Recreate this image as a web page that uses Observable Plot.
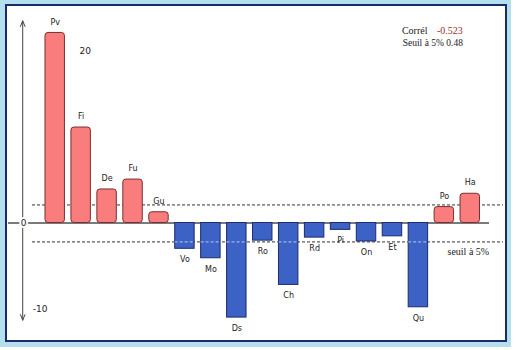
<!DOCTYPE html>
<html><head><meta charset="utf-8">
<script src="https://cdn.jsdelivr.net/npm/d3@7"></script>
<script src="https://cdn.jsdelivr.net/npm/@observablehq/plot@0.6"></script>
<style>
body{margin:0;background:#fff;}
#wrap{position:relative;width:516px;height:350px;overflow:hidden;}
#outer{position:absolute;left:0;top:0;width:511px;height:347px;background:#b4e0ee;}
#inner{position:absolute;left:5px;top:4px;width:497.5px;height:334px;border:2px solid #1c2a6b;background:#fff;}
#chart{position:absolute;left:0;top:0;}
</style></head>
<body><div id="wrap"><div id="outer"></div><div id="inner"></div><div id="chart"></div></div>
<script>
const categories = ["Pv","Fi","De","Fu","Gu","Vo","Mo","Ds","Ro","Ch","Rd","Pi","On","Et","Qu","Po","Ha"];
const values = [22.1, 11.1, 3.9, 5.05, 1.25, -3.0, -4.1, -11.0, -2.05, -7.2, -1.7, -0.8, -2.15, -1.55, -9.8, 1.85, 3.4];
const thresholds = [2.1, -2.2];
const axisEnds = [23.5, -11.3];
const tickLabels = ["20", "0", "-10"];
const tickValues = [20, 0, -10];
const corrLabel = "Corrél";
const corrValue = "-0.523";
const seuilText = "Seuil à 5% 0.48";
const seuilLabel = "seuil à 5%";

const data = categories.map((c, i) => ({cat: c, v: values[i]}));
const pos = data.filter(d => d.v >= 0);
const neg = data.filter(d => d.v < 0);
const lower = d3.min(thresholds);
const deep = neg.filter(d => d.v < lower);
const ticks = tickLabels.map((t, i) => ({t, v: tickValues[i]}));
const first = categories[0];

const sans = "DejaVu Sans";
const serif = "Liberation Serif";

const plot = Plot.plot({
  width: 516, height: 350,
  marginLeft: 32, marginRight: 13, marginTop: 10, marginBottom: 10,
  style: {background: "transparent", fontFamily: sans},
  x: {domain: categories, range: [38.5, 486], padding: 0.25, round: false, axis: null},
  y: {domain: [-12, 23], range: [325.7, 24.7], axis: null},
  marks: [
    Plot.ruleY(thresholds, {stroke: "#333", strokeDasharray: "3,2", strokeWidth: 1}),
    Plot.ruleY([0], {stroke: "#7a7a7a", strokeWidth: 2, insetLeft: -24, insetRight: 14}),
    Plot.arrow(axisEnds.map(e => ({y2: e})), {x1: () => first, x2: () => first, y1: () => 0, y2: "y2", dx: -32.5, stroke: "#444", strokeWidth: 1, headLength: 9, headAngle: 45}),
    Plot.barY(pos, {x: "cat", y: "v", fill: "#f97d7d", stroke: "#7a2f2f", strokeWidth: 1, rx: 3}),
    Plot.barY(neg, {x: "cat", y: "v", fill: "#3d62c6", stroke: "#1d2d6a", strokeWidth: 1}),
    Plot.tickY(deep, {x: "cat", y: () => lower, stroke: "#b9c8f0", strokeDasharray: "3,2", strokeWidth: 1}),
    Plot.text(pos, {x: "cat", y: "v", text: "cat", dy: -11, fontSize: 8, fill: "#222"}),
    Plot.text(neg, {x: "cat", y: "v", text: "cat", dy: 11, fontSize: 8, fill: "#222"}),
    Plot.text(ticks.filter(d => d.v > 0), {x: () => first, y: "v", text: "t", dx: 30, fontSize: 9, fill: "#222"}),
    Plot.text(ticks.filter(d => d.v === 0), {x: () => first, y: "v", text: "t", dx: -31.5, fontSize: 9, fill: "#222", stroke: "white", strokeWidth: 4}),
    Plot.text(ticks.filter(d => d.v < 0), {x: () => first, y: "v", text: "t", dx: -15, fontSize: 9, fill: "#222"}),
    Plot.text([corrLabel], {frameAnchor: "top-right", textAnchor: "end", dx: -76, dy: 16, fontFamily: serif, fontSize: 10, fill: "#222"}),
    Plot.text([corrValue], {frameAnchor: "top-right", textAnchor: "start", dx: -66.5, dy: 16, fontFamily: serif, fontSize: 10, fill: "#9b2b2b"}),
    Plot.text([seuilText], {frameAnchor: "top-right", textAnchor: "middle", dx: -70.7, dy: 28.3, fontFamily: serif, fontSize: 9.5, fill: "#222"}),
    Plot.text([seuilLabel], {frameAnchor: "right", y: () => lower, textAnchor: "start", dx: -56, dy: 10, fontFamily: serif, fontSize: 10, fill: "#222"})
  ]
});
document.getElementById("chart").appendChild(plot);
</script>
</body></html>
